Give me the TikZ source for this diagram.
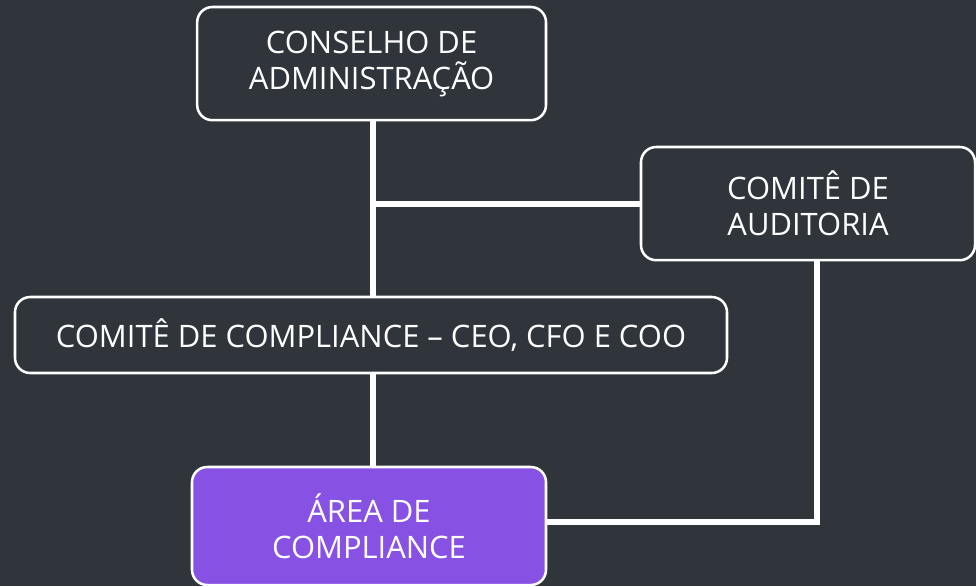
\documentclass[tikz,border=0pt]{standalone}
\usepackage{fontspec}
\setmainfont{Open Sans}
\usetikzlibrary{positioning}

\definecolor{fundo}{HTML}{2F353B}
\definecolor{roxo}{HTML}{8751E3}

\begin{document}
\begin{tikzpicture}[font=\fontsize{22}{25.6}\selectfont]

\tikzset{
  caixa/.style={draw=white, fill=fundo, text=white, rounded corners=0.38cm, line width=1.8pt, align=center, inner sep=0pt},
  linha/.style={draw=white, line width=4.3pt}
}

% --- Fundo ---
\fill[fundo] (0,0) rectangle (24.4,-14.65);
\useasboundingbox (0,0) rectangle (24.4,-14.65);

% --- Nós ---
\node[caixa, minimum width=8.72cm, minimum height=2.83cm] (cons) at (9.29,-1.59) {CONSELHO DE\\ADMINISTRAÇÃO};
\node[caixa, minimum width=8.35cm, minimum height=2.83cm] (aud) at (20.2,-5.09) {COMITÊ DE\\AUDITORIA};
\node[caixa, minimum width=17.8cm, minimum height=1.9cm] (comp) at (9.275,-8.375) {COMITÊ DE COMPLIANCE – CEO, CFO E COO};
\node[caixa, fill=roxo, minimum width=8.85cm, minimum height=2.95cm] (area) at (9.225,-13.15) {ÁREA DE\\COMPLIANCE};

% tronco central
\coordinate (tronco) at ([xshift=0.04cm]cons.south);
\coordinate (aud-desce) at ([xshift=0.22cm]aud.south);

% --- Linhas ---
\draw[linha] (tronco) -- (tronco |- comp.north);
\draw[linha] (aud.west) -- (aud.west -| tronco);
\draw[linha] (tronco |- comp.south) -- (tronco |- area.north);
\draw[linha] (aud-desce) |- ([yshift=0.1cm]area.east);

\end{tikzpicture}
\end{document}
